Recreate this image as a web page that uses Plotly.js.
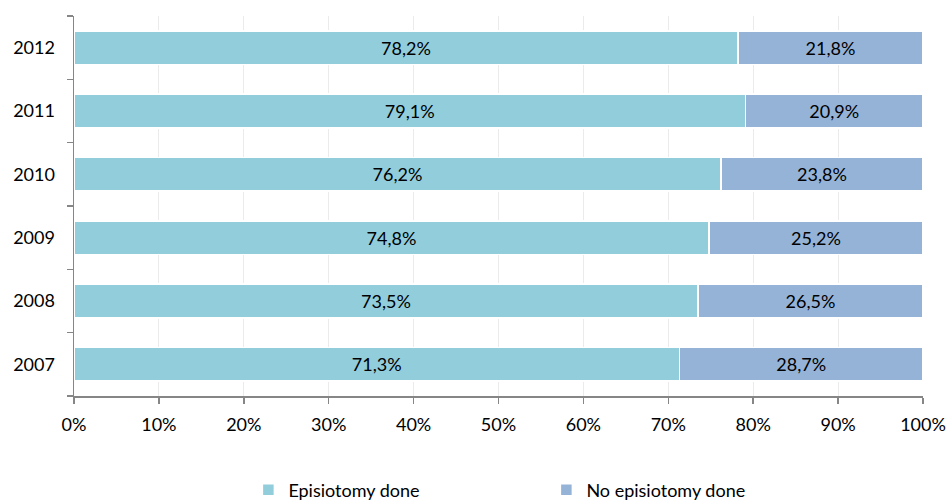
<!DOCTYPE html>
<html><head><meta charset="utf-8">
<script src="https://cdn.plot.ly/plotly-3.0.1.min.js"></script>
<style>html,body{margin:0;padding:0;background:#fff}#chart{width:948px;height:502px}</style>
</head><body><div id="chart"></div>
<script>
const years = ['2007','2008','2009','2010','2011','2012'];
const episiotomyDone = [71.3, 73.5, 74.8, 76.2, 79.1, 78.2];
const noEpisiotomyDone = [28.7, 26.5, 25.2, 23.8, 20.9, 21.8];
const seriesNames = ['Episiotomy done', 'No episiotomy done'];
const xTickVals = [0,10,20,30,40,50,60,70,80,90,100];
const xTickText = xTickVals.map(v => v + '%');

const fmt = v => v.toFixed(1).replace('.', ',') + '%';
const font = {family: 'Lato, "Open Sans", sans-serif', size: 18, color: '#000'};

const traces = [
  {type:'bar', orientation:'h', y: years, x: episiotomyDone, name: seriesNames[0],
   marker:{color:'#92CDDC', line:{color:'#fff', width:1.5}},
   text: episiotomyDone.map(fmt), textposition:'inside', insidetextanchor:'middle',
   textfont: font, hoverinfo:'none', cliponaxis:false},
  {type:'bar', orientation:'h', y: years, x: noEpisiotomyDone, name: seriesNames[1],
   marker:{color:'#95B3D7', line:{color:'#fff', width:1.5}},
   text: noEpisiotomyDone.map(fmt), textposition:'inside', insidetextanchor:'middle',
   textfont: font, hoverinfo:'none', cliponaxis:false}
];

const layout = {
  width: 948, height: 502,
  margin: {l:74, r:25, t:16, b:106},
  barmode: 'stack', bargap: 0.47,
  paper_bgcolor:'#fff', plot_bgcolor:'#fff',
  font: font,
  showlegend: true,
  uniformtext: {mode:false},
  xaxis: {range:[0,100], tickvals: xTickVals, ticktext: xTickText,
    showgrid:true, gridcolor:'#EBEBEB', gridwidth:1,
    showline:true, linecolor:'#868686', linewidth:1.5,
    ticks:'outside', ticklen:6, tickcolor:'#868686', tickwidth:1.5,
    ticklabelstandoff: 6,
    zeroline:false, tickfont: font, fixedrange:true},
  yaxis: {type:'category', categoryorder:'array', categoryarray: years,
    range:[-0.5, 5.5], showgrid:false, showline:true, linecolor:'#868686', linewidth:1.5,
    ticks:'outside', tickson:'boundaries', ticklen:6, tickcolor:'#868686', tickwidth:1.5,
    ticklabelstandoff: 14,
    zeroline:false, tickfont: font, fixedrange:true},
  legend: {orientation:'h', xref:'container', yref:'container', x:0.262, xanchor:'left',
    y:0.024, yanchor:'middle', entrywidth:253, entrywidthmode:'pixels',
    font: font, traceorder:'normal'}
};
Plotly.newPlot('chart', traces, layout, {staticPlot:true});
</script></body></html>
